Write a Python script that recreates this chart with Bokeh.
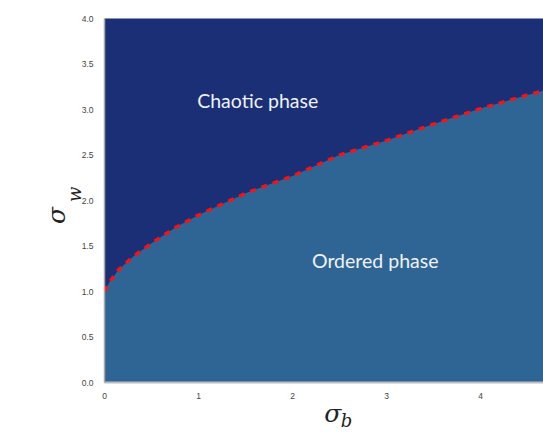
from bokeh.plotting import figure
from bokeh.models import Range1d, FixedTicker, LinearAxis, Label
from bokeh.embed import file_html
from bokeh.resources import INLINE

# Order/chaos phase boundary: sigma_w at which the network becomes chaotic, vs sigma_b
sigma_b = [0.0, 0.05, 0.15, 0.3, 0.5, 0.75, 1.0, 1.5, 2.0, 2.5, 3.0, 3.5, 4.0, 4.5, 5.0]
sigma_w = [1.0, 1.10, 1.24, 1.38, 1.53, 1.70, 1.84, 2.08, 2.27, 2.50, 2.66, 2.84, 3.01, 3.16, 3.30]

x_ticks = [0, 1, 2, 3, 4]
y_ticks = [0.0, 0.5, 1.0, 1.5, 2.0, 2.5, 3.0, 3.5, 4.0]
y_top = 4.0

chaotic_color = "#1a2f76"
ordered_color = "#2e6594"

p = figure(width=543, height=433, output_backend="svg", toolbar_location=None,
           x_range=Range1d(0, 4.67), y_range=Range1d(0, y_top),
           min_border_left=104, min_border_right=0, min_border_top=18, min_border_bottom=50)
p.background_fill_color = chaotic_color
p.border_fill_color = "white"
p.outline_line_color = None
p.grid.visible = False

# ordered phase below the boundary
p.varea(x=sigma_b, y1=[0] * len(sigma_b), y2=sigma_w, fill_color=ordered_color)
# boundary line
p.line(sigma_b, sigma_w, line_color="#ff1010", line_width=3.3, line_dash="6 6")

serif = "DejaVu Serif"
ink = "#222222"

for ax in (p.xaxis[0], p.yaxis[0]):
    ax.major_tick_line_color = None
    ax.minor_tick_line_color = None
    ax.major_label_text_font = "Liberation Sans"
    ax.major_label_text_font_size = "8.5px"
    ax.major_label_text_color = "#444444"
    ax.axis_label_text_font = serif
    ax.axis_label_text_font_style = "italic"
    ax.axis_label_text_color = ink

p.xaxis.major_label_standoff = 4
p.yaxis.major_label_standoff = 5
p.xaxis.ticker = FixedTicker(ticks=x_ticks)
p.yaxis.ticker = FixedTicker(ticks=y_ticks)
p.yaxis.major_label_overrides = {t: f"{t:.1f}" for t in y_ticks}
p.xaxis.major_label_overrides = {t: str(t) for t in x_ticks}
p.xaxis.axis_line_color = "#bdbdbd"
p.xaxis.axis_line_width = 2
p.yaxis.axis_line_color = "#a8a8a8"
p.yaxis.axis_line_width = 1.5

# x title: sigma on the tick axis, subscript b on a bare outer axis
p.xaxis.axis_label = "\u2002\u2009σ"
p.xaxis.axis_label_text_font_size = "25px"
p.xaxis.axis_label_standoff = -3

# y title: subscript w on the tick axis, sigma on a bare outer axis
p.yaxis.axis_label = "\u2002\u2009w"
p.yaxis.axis_label_text_font_size = "18px"
p.yaxis.axis_label_standoff = -6


def bare_axis(label, size, standoff):
    ax = LinearAxis(ticker=FixedTicker(ticks=[]), axis_line_color=None,
                    major_tick_line_color=None, minor_tick_line_color=None,
                    axis_label=label, axis_label_text_font=serif,
                    axis_label_text_font_style="italic", axis_label_text_color=ink,
                    axis_label_text_font_size=size, axis_label_standoff=standoff)
    return ax


p.add_layout(bare_axis("\u2003\u2003\u2002b", "18px", -21), "below")
p.add_layout(bare_axis("σ\u2003\u2009", "25px", -10), "left")

# phase names
p.add_layout(Label(x=1.63, y=3.10, text="Chaotic phase", text_color="#eef2f8",
                   text_font="Lato", text_font_size="19.5px",
                   text_align="center", text_baseline="middle"))
p.add_layout(Label(x=2.88, y=1.34, text="Ordered phase", text_color="#eef2f8",
                   text_font="Lato", text_font_size="19.5px",
                   text_align="center", text_baseline="middle"))

open("out.html", "w").write(file_html(p, INLINE))
